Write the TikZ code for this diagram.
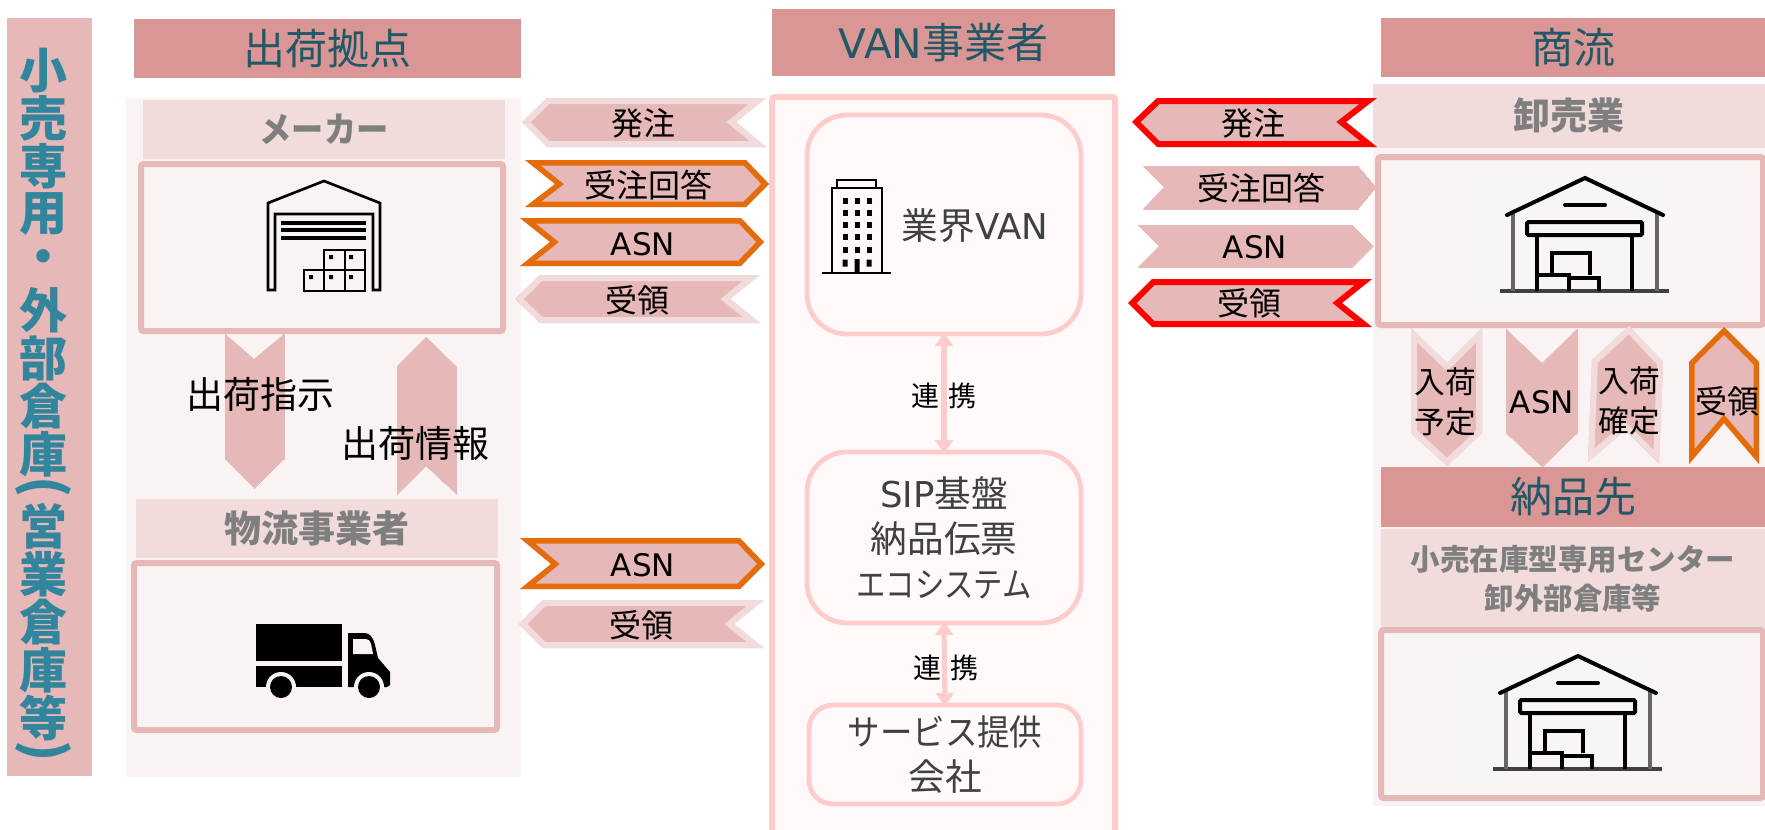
\documentclass[tikz,border=0pt]{standalone}
\usepackage{fontspec}
\usepackage{graphicx}
\setmainfont{Noto Sans CJK JP}
\newfontfamily\lat[Scale=0.97]{DejaVu Sans}
\usetikzlibrary{arrows.meta}
\definecolor{hdr}{HTML}{D99694}
\definecolor{band}{HTML}{F2DCDB}
\definecolor{cf}{HTML}{E6B8B7}
\definecolor{pale}{HTML}{F9F3F3}
\definecolor{org}{HTML}{E46C0A}
\definecolor{vanln}{HTML}{FFCCCC}
\definecolor{vanbg}{HTML}{FFF9F9}
\definecolor{teal}{HTML}{215868}
\definecolor{blue1}{HTML}{31859C}
\definecolor{dk}{HTML}{404040}
\definecolor{gy}{HTML}{7F7F7F}
\tikzset{
  x=0.75pt,y=-0.75pt,
  area/.style n args={4}{inner sep=0pt,outer sep=0pt,minimum width={(#3-#1)*0.75pt},minimum height={(#4-#2)*0.75pt},at={({(#1+#3)/2},{(#2+#4)/2})}},
  hdrbox/.style={fill=hdr,text=teal,font=\fontsize{31.5}{38}\selectfont},
  bandbox/.style={fill=band,text=gy,font=\fontsize{27.75}{33}\bfseries\selectfont},
  bandsmall/.style={fill=band,text=gy,align=center,font=\fontsize{22.1}{29.5}\bfseries\selectfont},
  paleb/.style={fill=pale},
  sitebox/.style={draw=cf,fill=pale,line width=4.5pt,rounded corners=2pt},
  vanbox/.style={draw=vanln,fill=vanbg,line width=3.6pt,text=dk,align=center,font=\fontsize{27.5}{33.75}\selectfont},
  chevtxt/.style={inner sep=0pt,font=\fontsize{24}{30}\selectfont,align=center,text=black},
  bigtxt/.style={inner sep=0pt,font=\fontsize{27.75}{33}\selectfont,text=black},
  linktxt/.style={inner sep=0pt,font=\fontsize{21}{25}\selectfont,text=black},
  linkarrow/.style={draw=vanln,line width=3.8pt,{Triangle[width=13pt,length=10pt]}-{Triangle[width=13pt,length=10pt]},shorten <=-1pt,shorten >=-1pt},
  icon/.style={draw=black,line width=2pt,line join=miter},
}
% fill plus a border lying wholly inside the outline; border width given in reference pixels
\newcommand\chev[3]{%
  \fill[cf] #3 -- cycle;
  \begin{scope}\clip #3 -- cycle;
    \draw[#1,line width=#2*1.5pt] #3 -- cycle;
  \end{scope}}
\newcommand\vch[1]{\vbox to 36pt{\vss\hbox to 0pt{\hss #1\hss}\vss}}
\newcommand\vpar[1]{\vbox to 18pt{\vss\hbox to 0pt{\hss\rotatebox[origin=c]{-90}{\fontsize{40}{40}\selectfont #1}\hss}\vss}}
\newcommand\house[1]{%
  \begin{scope}[shift={#1}]
    \fill[white,opacity=.2] (1457,163) rectangle (1677,312);
    \draw[black!75,line width=2.6pt] (1500,291) -- (1669,291);
    \draw[black!60,line width=3pt] (1513,291) -- (1513,213) (1657,291) -- (1657,213);
    \draw[black,line width=3pt,line cap=round] (1507,215) -- (1585,178) -- (1663,215);
    \draw[black,line width=3pt,line cap=round] (1565,205) -- (1605,205);
    \draw[black,line width=3pt,rounded corners=1pt] (1527,222) rectangle (1642,235);
    \draw[black,line width=3pt] (1537,235) -- (1537,291) (1632,235) -- (1632,291);
    \draw[black,line width=3pt] (1552,275) -- (1552,253) -- (1590,253) -- (1590,275);
    \draw[black,line width=3pt] (1537,275) -- (1569,275) -- (1569,291) (1569,278) -- (1599,278) -- (1599,291);
  \end{scope}}
\begin{document}
\begin{tikzpicture}
\useasboundingbox (0,0) rectangle (1765,829);
\fill[white] (0,0) rectangle (1765,829);

% left band
\node[area={7}{18}{92}{776},fill=cf] (sideband) {};
\node[anchor=north,inner sep=0pt,text=blue1,font=\fontsize{36}{36}\bfseries\selectfont] (sidetext) at (43,46) {\vbox{\offinterlineskip
  \vch{小}\vch{売}\vch{専}\vch{用}\vch{・}\vch{外}\vch{部}\vch{倉}\vch{庫}\vpar{(}\vch{営}\vch{業}\vch{倉}\vch{庫}\vch{等}\vpar{)}}};

% shipping base
\node[area={134}{19}{521}{78},hdrbox] (h1) {出荷拠点};
\node[area={126}{98}{521}{777},paleb] (bg1) {};
\node[area={143}{100}{505}{159},bandbox] (maker) {\scalebox{.87}[.95]{メーカー}};
\node[area={141}{164}{503}{331},sitebox] (makerbox) {};
\node[area={136}{499}{498}{558},bandbox] (logi) {物流事業者};
\node[area={134}{563}{497}{730},sitebox] (logibox) {};

% warehouse 1
\draw[icon] (268,290) -- (268,203) -- (324,181) -- (380,203) -- (380,290) -- (373,290) -- (373,214) -- (275,214) -- (275,290) -- cycle;
\draw[black,line width=3.2pt] (281,223) -- (366,223) (281,230) -- (366,230) (281,238) -- (366,238);
\draw[icon,line width=1.7pt] (304,270) rectangle (324,291) (324,270) rectangle (345,291) (345,270) rectangle (365,291) (324,250) rectangle (345,270) (345,250) rectangle (365,270);
\fill[black] (309,275) rectangle (313,279) (329,275) rectangle (333,279) (349,275) rectangle (353,279) (329,255) rectangle (333,259) (349,255) rectangle (353,259);

% truck
\fill[black] (256,624) rectangle (342,661);
\fill[black] (256,666) rectangle (342,687);
\fill[black] (348,633) -- (364,633) .. controls (370,633) and (373,637) .. (375,645) -- (378,658) -- (390,672) -- (390,685) -- (387,687) -- (348,687) -- cycle;
\fill[pale] (353,639) -- (366,639) .. controls (369,639) and (370,641) .. (371,644) -- (373,654) -- (353,654) -- cycle;
\fill[pale] (281,687) circle (15) (369,687) circle (15) (255,688) rectangle (392,700);
\fill[black] (281,687) circle (11) (369,687) circle (11);

% vertical arrows between maker and logistics
\chev{cf}{0}{(225,334) -- (254,359) -- (284,334) -- (284,459) -- (254,488) -- (225,459)}
\chev{cf}{0}{(397,494) -- (426,466) -- (456,494) -- (456,366) -- (426,337) -- (397,366)}
\node[bigtxt] (t1) at (260,394) {出荷指示};
\node[bigtxt] (t2) at (415,443) {出荷情報};

% left chevrons
\chev{band}{6}{(522,122) -- (547,98) -- (766,98) -- (736,122) -- (766,147) -- (547,147)}
\node[chevtxt] (l1) at (643,123) {発注};
\chev{org}{5.5}{(525,160) -- (746,160) -- (769,184) -- (746,207) -- (525,207) -- (555,184)}
\node[chevtxt] (l2) at (648,185) {受注回答};
\chev{org}{5.5}{(520,218) -- (741,218) -- (764,242) -- (741,266) -- (520,266) -- (550,242)}
\node[chevtxt] (l3) at (643,244) {\lat ASN};
\chev{band}{6}{(515,299) -- (540,275) -- (760,275) -- (730,299) -- (760,323) -- (540,323)}
\node[chevtxt] (l4) at (637,300) {受領};
\chev{org}{5.5}{(520,538) -- (740,538) -- (765,564) -- (740,589) -- (520,589) -- (551,564)}
\node[chevtxt] (l5) at (643,565) {\lat ASN};
\chev{band}{6}{(519,624) -- (543,600) -- (764,600) -- (734,624) -- (764,648) -- (543,648)}
\node[chevtxt] (l6) at (641,625) {受領};

% VAN column
\node[area={772}{9}{1115}{76},hdrbox] (h2) {{\lat VAN}事業者};
\draw[draw=vanln,fill=vanbg,line width=4.5pt,rounded corners=2pt] (772,835) -- (772,97) -- (1115,97) -- (1115,835);
\node[area={807}{115}{1081}{334},vanbox,rounded corners=30pt] (van) {};
\node[area={807}{452}{1081}{623},vanbox,rounded corners=30pt] (sip) {{\lat SIP}基盤\\納品伝票\\\scalebox{.8}[.95]{エコシステム}};
\node[area={809}{705}{1081}{804},vanbox,rounded corners=18pt] (svc) {\scalebox{.885}[.97]{サービス提供}\\会社};
\node[inner sep=0pt,text=dk,font=\fontsize{27.5}{33}\selectfont] (vanlabel) at (975,226) {業界{\lat VAN}};
\draw[linkarrow] (van.south) -- (sip.north);
\draw[linkarrow] (sip.south) -- (svc.north);
\node[linktxt] (k1) at (944,396) {連\,\,携};
\node[linktxt] (k2) at (946,668) {連\,\,携};

% building
\draw[black,line width=1.6pt] (822,273) -- (891,273);
\draw[black,line width=1.3pt] (832,273) -- (832,188) -- (882,188) -- (882,273);
\draw[black,line width=1.1pt] (837,188) -- (837,180) -- (876,180) -- (876,188);
\foreach \cx in {845,857,869}{\foreach \cy in {201,213,225,237,250}{\fill[black] (\cx-2.5,\cy-3.2) rectangle (\cx+2.5,\cy+3.2);}}
\fill[black] (842.5,259.5) rectangle (847.5,266.5) (866.5,259.5) rectangle (871.5,266.5) (854.5,259) rectangle (859.5,273);

% right column
\node[area={1381}{18}{1765}{77},hdrbox] (h3) {商流};
\node[area={1373}{148}{1765}{806},paleb] (bg3) {};
\node[area={1373}{84}{1765}{148},bandbox] (whole) {卸売業};
\node[area={1378}{157}{1763}{325},sitebox] (wholebox) {};
\house{(0,0)}

\node[area={1381}{529}{1765}{628},bandsmall] (dest) {小売在庫型専用センター\\卸外部倉庫等};
\node[area={1381}{467}{1765}{527},hdrbox] (h4) {納品先};
\node[area={1381}{630}{1763}{798},sitebox] (destbox) {};
\house{(-7,478)}

% right chevrons
\chev{red}{6}{(1132,122) -- (1157,98) -- (1377,98) -- (1346,122) -- (1377,147) -- (1157,147)}
\node[chevtxt] (r1) at (1253,123) {発注};
\chev{cf}{0}{(1143,166) -- (1358,166) -- (1376,187) -- (1358,209) -- (1143,209) -- (1164,187)}
\node[chevtxt] (r2) at (1261,188) {受注回答};
\chev{cf}{0}{(1138,225) -- (1352,225) -- (1373,246) -- (1352,267) -- (1138,267) -- (1159,246)}
\node[chevtxt] (r3) at (1255,247) {\lat ASN};
\chev{red}{6}{(1128,303) -- (1152,279) -- (1372,279) -- (1342,303) -- (1372,327) -- (1152,327)}
\node[chevtxt] (r4) at (1249,303) {受領};

% vertical chevrons, right
\chev{band}{6}{(1411,328) -- (1447,363) -- (1482,328) -- (1482,433) -- (1447,466) -- (1411,433)}
\node[chevtxt,font=\fontsize{23}{30}\selectfont] (v1) at (1445,402) {入荷\\予定};
\chev{cf}{0}{(1506,329) -- (1542,363) -- (1577,329) -- (1577,433) -- (1542,467) -- (1506,433)}
\node[chevtxt] (v2) at (1542,402) {\lat ASN};
\chev{band}{6}{(1629,326) -- (1663,362) -- (1659,464) -- (1625,430) -- (1588,462) -- (1592,360)}
\node[chevtxt,font=\fontsize{23}{30}\selectfont] (v3) at (1629,401) {入荷\\確定};
\chev{org}{5.5}{(1724,327) -- (1759,362) -- (1759,464) -- (1724,423) -- (1689,464) -- (1689,362)}
\node[chevtxt] (v4) at (1727,401) {受領};
\end{tikzpicture}
\end{document}
